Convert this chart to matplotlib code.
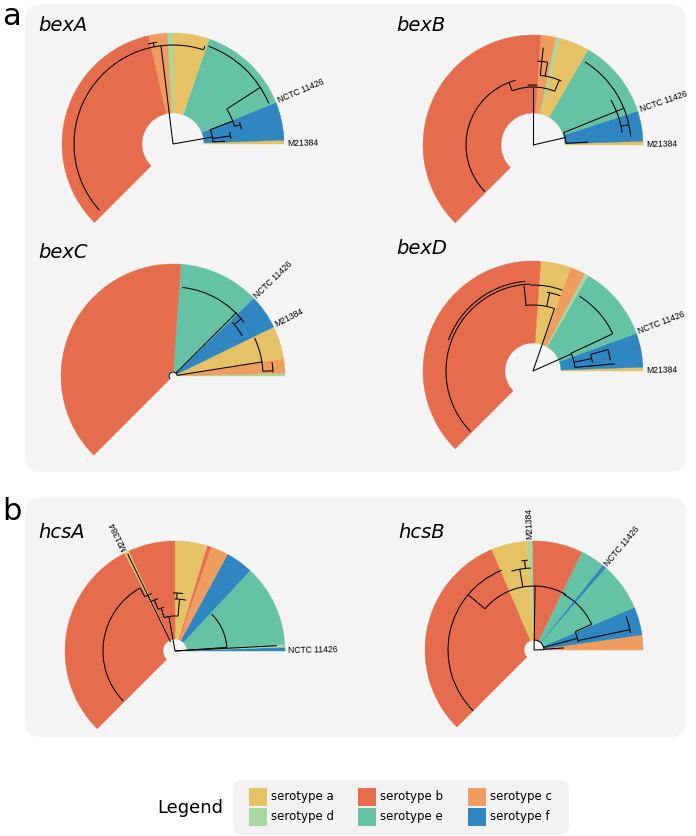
import numpy as np
import matplotlib
matplotlib.use("Agg")
import matplotlib.pyplot as plt
from matplotlib.patches import Wedge, Arc, FancyBboxPatch, Rectangle

W, H = 696, 837

# serotype colours
COLORS = {'a': '#e6c267', 'b': '#e56d4e', 'c': '#ef9c5f',
          'd': '#a6d8a0', 'e': '#65c2a4', 'f': '#2f86c0'}

# --- sector data: serotype per clade and clade edges (degrees, ccw from east)
bexA_sero = ['a', 'f', 'e', 'a', 'd', 'c', 'b']
bexA_edges = [0, 2, 22, 71, 90, 93, 103, 225]
bexB_sero = ['a', 'f', 'e', 'a', 'd', 'c', 'b']
bexB_edges = [0, 2, 18, 60, 76, 78, 86, 225]
bexC_sero = ['d', 'c', 'a', 'f', 'e', 'b']
bexC_edges = [0, 1.5, 9, 26, 44, 86, 225]
bexD_sero = ['a', 'f', 'e', 'd', 'c', 'a', 'b']
bexD_edges = [0, 2, 20, 60, 62, 70, 86, 225]
hcsA_sero = ['f', 'd', 'e', 'f', 'c', 'b', 'a', 'b', 'a', 'b']
hcsA_edges = [0, 2, 3.5, 47, 61.5, 71, 73, 90, 115, 117.5, 225]
hcsB_sero = ['c', 'f', 'e', 'f', 'e', 'b', 'd', 'a', 'b']
hcsB_edges = [0, 8, 23, 49, 51, 64, 91, 93.5, 113, 225]

# --- dendrogram branches: spokes (angle, r1, r2) and arcs (r, theta1, theta2)
bexA_spokes = [(10, 0, 40), (97, 0, 99), (21, 40, 64), (33, 64, 104), (3, 40, 52),
               (8, 40, 58), (16, 64, 70), (101, 99, 103), (72, 99, 103)]
bexA_arcs = [(40, 3, 21), (99, 72, 222), (64, 16, 33), (104, 23, 70), (58, 5, 12),
             (103, 99, 104), (70, 12, 18)]
bexB_spokes = [(90, 0, 58), (13, 0, 33), (22, 33, 98), (3, 33, 55), (111, 58, 67),
               (68, 58, 70), (84, 70, 98), (80, 70, 84), (12, 90, 98)]
bexB_arcs = [(58, 68, 111), (67, 105, 224), (33, 3, 22), (98, 5, 58), (90, 8, 30),
             (70, 66, 84), (84, 80, 87), (60, 86, 95)]
bexC_spokes = [(45, 4, 90), (9, 4, 91), (40, 80, 90), (3, 90, 100)]
bexC_arcs = [(4, 8, 225), (89, 37, 84), (80, 30, 42), (90, 3, 25), (100, 2, 8)]
bexD_spokes = [(24, 0, 42), (71, 0, 57), (25, 42, 88), (5, 42, 82), (12, 42, 60),
               (96, 66, 86), (71, 57, 66), (16, 60, 78), (78, 66, 80)]
bexD_arcs = [(42, 5, 25), (66, 71, 97), (87, 92, 224), (90, 95, 160), (88, 25, 58),
             (60, 8, 16), (78, 8, 16), (86, 70, 92), (80, 70, 80)]
hcsA_spokes = [(3, 0, 102), (4, 0, 52), (116, 10, 108), (100, 0, 35), (108, 35, 45),
               (112, 45, 55), (116, 55, 62), (119, 62, 72), (85, 35, 52), (88, 52, 58)]
hcsA_arcs = [(52, 4, 45), (72, 119, 224), (35, 85, 108), (45, 104, 112),
             (55, 108, 116), (62, 112, 119), (52, 78, 90), (58, 82, 92)]
hcsB_spokes = [(89, 0, 64), (2, 0, 10), (15, 10, 45), (24, 45, 63), (12, 45, 98),
               (140, 64, 86), (100, 64, 82), (4, 10, 30), (96, 82, 90)]
hcsB_arcs = [(64, 60, 140), (86, 112, 225), (82, 92, 106), (45, 10, 24),
             (63, 24, 62), (98, 10, 20), (10, 2, 89), (90, 94, 98)]

# --- tip labels: angle for each reference strain
nctc_angle = [23, 19, 44, 21, 1, 50]
m213_angle = [1, 1, 27, 1, 116, 92]

genes = ['bexA', 'bexB', 'bexC', 'bexD', 'hcsA', 'hcsB']
sero_list = [bexA_sero, bexB_sero, bexC_sero, bexD_sero, hcsA_sero, hcsB_sero]
edge_list = [bexA_edges, bexB_edges, bexC_edges, bexD_edges, hcsA_edges, hcsB_edges]
spoke_list = [bexA_spokes, bexB_spokes, bexC_spokes, bexD_spokes, hcsA_spokes, hcsB_spokes]
arc_list = [bexA_arcs, bexB_arcs, bexC_arcs, bexD_arcs, hcsA_arcs, hcsB_arcs]

legend_keys = ['a', 'b', 'c', 'd', 'e', 'f']

# layout (pixels, y from top)
centers = [(173, 145), (533, 146), (173, 377), (533, 372), (175, 652), (534, 651)]
outer_r = [111, 110, 112, 110, 110, 109]
inner_r = [31, 32, 5, 28, 12, 10]
title_pos = [(38, 25), (396, 25), (38, 253), (396, 248), (38, 533), (398, 533)]

fig = plt.figure(figsize=(W / 100, H / 100), dpi=100)
ax = fig.add_axes([0, 0, 1, 1])
ax.set_xlim(0, W)
ax.set_ylim(0, H)
ax.set_aspect('equal')
ax.axis('off')


def Y(py):
    return H - py


# panel backgrounds
for (x0, y0, x1, y1) in [(25, 5, 686, 473), (25, 498, 686, 738)]:
    ax.add_patch(FancyBboxPatch((x0, Y(y1)), x1 - x0, y1 - y0,
                                boxstyle="round,pad=0,rounding_size=16",
                                fc='#f4f4f4', ec='none', zorder=0))

ax.text(2, Y(16), 'a', fontsize=22, va='center', ha='left')
ax.text(2, Y(512), 'b', fontsize=22, va='center', ha='left')

for i, g in enumerate(genes):
    cx, cy = centers[i][0], Y(centers[i][1])
    R, r0 = outer_r[i], inner_r[i]
    ed = edge_list[i]
    for k, s in enumerate(sero_list[i]):
        ax.add_patch(Wedge((cx, cy), R, ed[k], ed[k + 1], width=R - r0,
                           fc=COLORS[s], ec=COLORS[s], lw=0.3, zorder=1))
    for (t, r1, r2) in spoke_list[i]:
        a = np.deg2rad(t)
        ax.plot([cx + r1 * np.cos(a), cx + r2 * np.cos(a)],
                [cy + r1 * np.sin(a), cy + r2 * np.sin(a)],
                color='black', lw=0.75, zorder=3, solid_capstyle='butt')
    for (r, t1, t2) in arc_list[i]:
        ax.add_patch(Arc((cx, cy), 2 * r, 2 * r, theta1=t1, theta2=t2,
                         color='black', lw=0.75, zorder=3))
    for name, ang in [('NCTC 11426', nctc_angle[i]), ('M21384', m213_angle[i])]:
        a = np.deg2rad(ang)
        ax.text(cx + (R + 3) * np.cos(a), cy + (R + 3) * np.sin(a), name,
                rotation=ang, rotation_mode='anchor', ha='left', va='center',
                fontsize=6.2, family='Liberation Sans', zorder=4)
    tx, ty = title_pos[i]
    ax.text(tx, Y(ty), g, fontsize=14, style='italic', ha='left', va='center')

# legend
ax.add_patch(FancyBboxPatch((233, Y(836)), 336, 55,
                            boxstyle="round,pad=0,rounding_size=9",
                            fc='#f2f2f2', ec='none', zorder=0))
ax.text(157, Y(808), 'Legend', fontsize=13, ha='left', va='center')
col_x = [249, 358, 468]
row_y = [789, 809]
for j, s in enumerate(legend_keys):
    x = col_x[j % 3]
    y = row_y[j // 3]
    ax.add_patch(Rectangle((x, Y(y + 18)), 18, 18, fc=COLORS[s], ec='none'))
    ax.text(x + 22, Y(y + 8), 'serotype ' + s, fontsize=8.5, ha='left', va='center')

fig.savefig('out.png', dpi=100)
